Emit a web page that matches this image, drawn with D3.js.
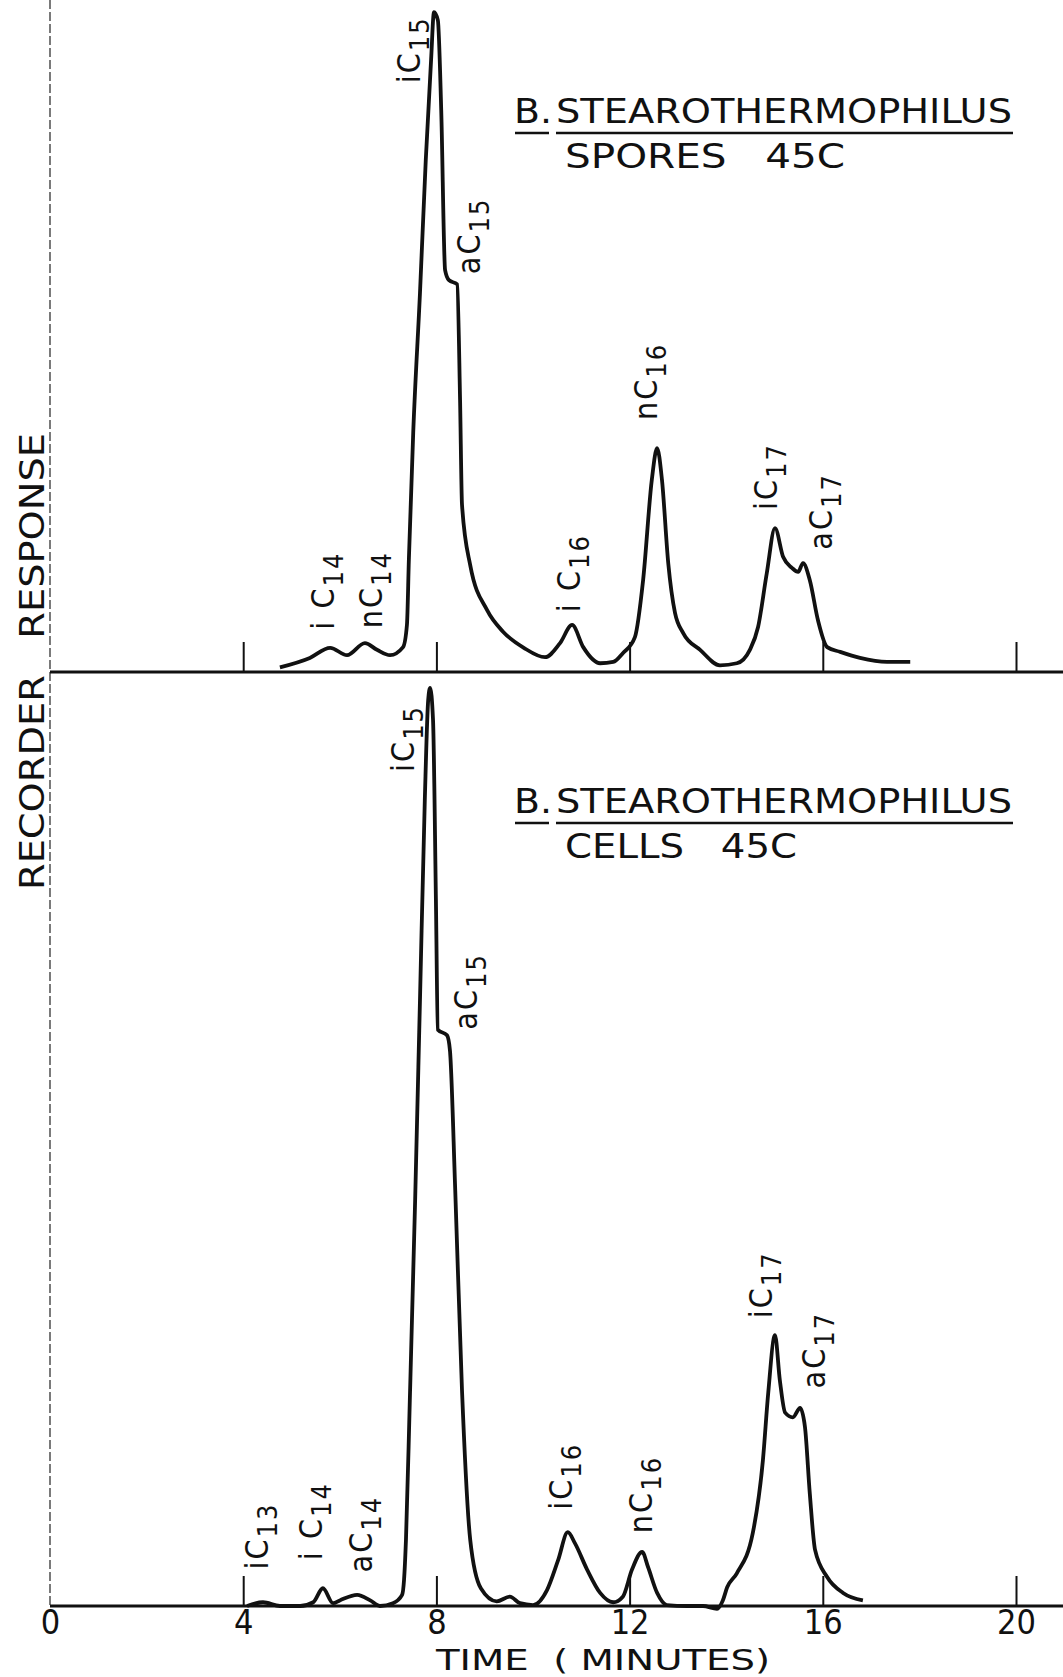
<!DOCTYPE html>
<html>
<head>
<meta charset="utf-8">
<script src="https://cdn.jsdelivr.net/npm/d3@7/dist/d3.min.js"></script>
<style>
  body { margin: 0; background: #fff; }
  svg text { font-family: 'DejaVu Sans Condensed', 'DejaVu Sans', sans-serif; font-stretch: condensed; fill: #111; }
</style>
</head>
<body>
<div class="chromatogram"></div>
<script>
// x ticks (minutes)
var tickMinutes = [0, 4, 8, 12, 16, 20];

// upper trace: spores 45C (response in % of panel height)
var sporesTime = [4.76, 5.38, 5.80, 6.15, 6.52, 6.77, 7.04, 7.31, 7.39, 7.43, 7.52, 7.66, 7.78, 7.89, 7.95, 8.03, 8.10, 8.18, 8.26, 8.43, 8.49, 8.53, 8.70, 9.05, 9.38, 9.81, 10.25,
  10.56, 10.81, 11.04, 11.39, 11.66, 11.86, 12.11, 12.28, 12.46, 12.57, 12.67, 12.80, 12.94, 13.11, 13.46, 13.87, 14.22, 14.49, 14.66, 14.84, 15.01, 15.18, 15.36, 15.49, 15.59, 15.73, 15.90, 16.09, 16.36, 16.77, 17.33, 17.81];
var sporesResp = [0.7, 2.1, 3.6, 2.5, 4.3, 3.3, 2.5, 3.7, 7.0, 16.7, 35.6, 56.4, 76.2, 91.1, 98.2, 97.0, 83.6, 59.8, 58.3, 57.7, 40.5, 24.9, 15.9, 9.2, 6.0, 3.6, 2.2,
  4.3, 7.0, 3.7, 1.3, 1.5, 2.8, 5.2, 13.7, 28.6, 33.3, 28.6, 16.2, 8.8, 5.8, 3.3, 1.0, 1.3, 3.3, 6.7, 14.7, 21.4, 17.1, 15.5, 14.9, 16.2, 13.7, 7.7, 3.7, 3.0, 2.1, 1.5, 1.5];

// lower trace: cells 45C
var cellsTime = [4.08, 4.41, 4.76, 5.18, 5.45, 5.65, 5.86, 6.00, 6.36, 6.63, 6.83, 7.10, 7.29, 7.33, 7.37, 7.45, 7.56, 7.66, 7.76, 7.83, 7.87, 7.93, 7.99, 8.03, 8.22, 8.28, 8.39, 8.53, 8.70, 8.92, 9.25, 9.52, 9.73, 10.0,
  10.29, 10.52, 10.72, 10.87, 11.12, 11.39, 11.66, 11.86, 12.05, 12.26, 12.38, 12.57, 12.77, 13.19, 13.52, 13.81, 13.93, 14.02, 14.22, 14.55, 14.76, 14.87, 15.01, 15.11, 15.22, 15.38, 15.53, 15.63, 15.73, 15.84, 16.09, 16.42, 16.83];
var cellsResp = [0, 0.4, 0, 0, 0.4, 1.9, 0.3, 0.6, 1.2, 0.6, 0, 0.3, 1.2, 2.8, 7.1, 22.1, 43.5, 64.9, 86.3, 97.0, 98.3, 94.9, 75.6, 61.7, 61.1, 59.5, 44.5, 23.1, 7.1, 1.9, 0.5, 1.0, 0.3, 0.1,
  1.7, 4.9, 7.9, 6.7, 3.9, 1.4, 0.4, 1.0, 3.9, 5.8, 4.2, 1.4, 0.1, 0, 0, -0.3, 0.6, 2.0, 3.5, 7.8, 15.6, 22.8, 29.0, 24.2, 20.7, 20.2, 21.2, 19.2, 12.1, 6.0, 3.1, 1.4, 0.6];

// peak names: [prefix, subscript, minutes, response level of label start]
var sporesPeaks = [["iC", "15", 7.66, 87.6], ["aC", "15", 8.90, 59.2], ["i C", "14", 5.88, 6.3], ["nC", "14", 6.87, 6.5],
  ["i C", "16", 10.97, 8.9], ["nC", "16", 12.57, 37.5], ["iC", "17", 15.05, 24.1], ["aC", "17", 16.19, 18.2]];
var cellsPeaks = [["iC", "15", 7.54, 89.3], ["aC", "15", 8.84, 61.7], ["iC", "13", 4.51, 3.9], ["i C", "14", 5.63, 4.9], ["aC", "14", 6.67, 3.6],
  ["iC", "16", 10.81, 10.3], ["nC", "16", 12.46, 7.8], ["iC", "17", 14.95, 30.8], ["aC", "17", 16.05, 23.3]];

var width = 1063, height = 1677;
var svg = d3.select(".chromatogram").append("svg")
  .attr("width", width).attr("height", height);

var x = d3.scaleLinear().domain([0, 20]).range([50, 1016]);
var yTop = d3.scaleLinear().domain([0, 100]).range([672, 0]);
var yBot = d3.scaleLinear().domain([0, 100]).range([1606, 672]);

// left recorder line
svg.append("line")
  .attr("x1", x(0)).attr("x2", x(0)).attr("y1", 0).attr("y2", yBot(0))
  .attr("stroke", "#333").attr("stroke-width", 1.3).attr("stroke-dasharray", "9 3");

function drawPanel(y, times, resp, peaks) {
  var g = svg.append("g");
  // ticks
  g.append("g")
    .attr("transform", "translate(0," + y(0) + ")")
    .call(d3.axisTop(x).tickValues(tickMinutes.slice(1)).tickSize(30).tickFormat(""))
    .call(function(a){ a.select(".domain").remove(); a.selectAll("line").attr("stroke", "#111").attr("stroke-width", 2); });
  // baseline
  g.append("line")
    .attr("x1", x(0)).attr("x2", width).attr("y1", y(0)).attr("y2", y(0))
    .attr("stroke", "#111").attr("stroke-width", 3);
  // trace
  var line = d3.line()
    .x(function(d, i){ return x(times[i]); })
    .y(function(d){ return y(d); })
    .curve(d3.curveMonotoneX);
  g.append("path")
    .attr("d", line(resp))
    .attr("fill", "none").attr("stroke", "#111")
    .attr("stroke-width", 3.8).attr("stroke-linejoin", "round");
  // peak labels, read bottom to top
  peaks.forEach(function(p){
    var t = g.append("text")
      .attr("transform", "translate(" + x(p[2]) + "," + y(p[3]) + ") rotate(-90)")
      .style("font-size", "32px").style("letter-spacing", "2px");
    t.append("tspan").text(p[0]);
    t.append("tspan").attr("dy", 9).style("font-size", "27px").text(p[1]);
  });
}

drawPanel(yTop, sporesTime, sporesResp, sporesPeaks);
drawPanel(yBot, cellsTime, cellsResp, cellsPeaks);

// titles
function title(yBase, sub, subLen) {
  svg.append("text").attr("x", 514).attr("y", yBase)
    .attr("textLength", 38).attr("lengthAdjust", "spacingAndGlyphs")
    .style("font-size", "33px").text("B.");
  svg.append("text").attr("x", 556).attr("y", yBase)
    .attr("textLength", 456).attr("lengthAdjust", "spacingAndGlyphs")
    .style("font-size", "33px").text("STEAROTHERMOPHILUS");
  svg.append("line").attr("x1", 515).attr("x2", 549).attr("y1", yBase + 10).attr("y2", yBase + 10)
    .attr("stroke", "#111").attr("stroke-width", 2.5);
  svg.append("line").attr("x1", 556).attr("x2", 1013).attr("y1", yBase + 10).attr("y2", yBase + 10)
    .attr("stroke", "#111").attr("stroke-width", 2.5);
  svg.append("text").attr("x", 565).attr("y", yBase + 45)
    .attr("textLength", subLen).attr("lengthAdjust", "spacingAndGlyphs")
    .style("font-size", "33px").style("white-space", "pre").text(sub);
}
title(123, "SPORES   45C", 280);
title(813, "CELLS   45C", 232);

// x tick labels
svg.append("g")
  .attr("transform", "translate(0," + yBot(0) + ")")
  .call(d3.axisBottom(x).tickValues(tickMinutes).tickSize(0).tickPadding(4).tickFormat(d3.format("d")))
  .call(function(a){
    a.select(".domain").remove();
    a.selectAll("text").attr("fill", "#111").style("font-size", "34px")
      .style("font-family", "'DejaVu Sans Condensed','DejaVu Sans',sans-serif");
  });

svg.append("text").attr("x", 436).attr("y", 1670)
  .attr("textLength", 334).attr("lengthAdjust", "spacingAndGlyphs")
  .style("font-size", "29px").style("white-space", "pre").text("TIME  ( MINUTES)");

svg.append("text")
  .attr("transform", "translate(44,890) rotate(-90)")
  .attr("textLength", 457).attr("lengthAdjust", "spacingAndGlyphs")
  .style("font-size", "34px").style("white-space", "pre").text("RECORDER   RESPONSE");
</script>
</body>
</html>
